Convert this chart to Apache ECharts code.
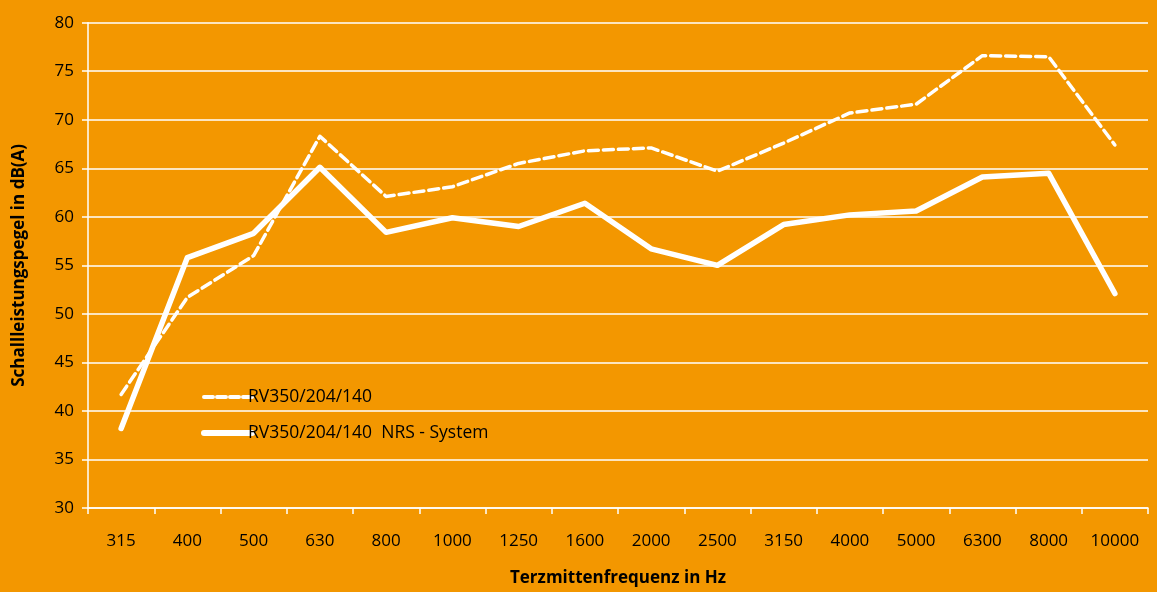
<!DOCTYPE html>
<html>
<head>
<meta charset="utf-8">
<script src="https://cdn.jsdelivr.net/npm/echarts@6/dist/echarts.min.js"></script>
<style>
html,body{margin:0;padding:0;background:#F39700;}
#c{width:1157px;height:592px;}
</style>
</head>
<body>
<div id="c"></div>
<script>
const categories = ['315','400','500','630','800','1000','1250','1600','2000','2500','3150','4000','5000','6300','8000','10000'];
const seriesNames = ['RV350/204/140', 'RV350/204/140  NRS - System'];
const valuesStandard = [41.7, 51.7, 56.0, 68.3, 62.1, 63.1, 65.5, 66.8, 67.1, 64.7, 67.6, 70.7, 71.6, 76.6, 76.5, 67.4];
const valuesNRS = [38.2, 55.8, 58.3, 65.1, 58.4, 59.9, 59.0, 61.4, 56.7, 55.0, 59.2, 60.2, 60.6, 64.1, 64.5, 52.1];
const yTicks = [30, 35, 40, 45, 50, 55, 60, 65, 70, 75, 80];
const xTitle = 'Terzmittenfrequenz in Hz';
const yTitle = 'Schallleistungspegel in dB(A)';

const chart = echarts.init(document.getElementById('c'), null, {renderer: 'canvas'});
const font = 'Open Sans';
chart.setOption({
  backgroundColor: '#F39700',
  animation: false,
  textStyle: {fontFamily: font},
  grid: {left: 88, right: 9, top: 22.7, bottom: 82.7, containLabel: false},
  legend: {
    orient: 'vertical',
    left: 196,
    top: 383,
    itemGap: 18,
    itemWidth: 48,
    itemHeight: 14,
    itemStyle: {opacity: 0},
    textStyle: {color: '#000', fontSize: 17.5, fontFamily: font, padding: [0,0,0,-9]},
    data: [
      {name: seriesNames[0], lineStyle: {color: '#fff', width: 4, type: [9, 4], cap: 'round'}},
      {name: seriesNames[1], lineStyle: {color: '#fff', width: 6, cap: 'round'}}
    ]
  },
  xAxis: {
    type: 'category',
    data: categories,
    boundaryGap: true,
    name: xTitle,
    nameLocation: 'middle',
    nameGap: 62,
    nameTextStyle: {color: '#000', fontWeight: 'bold', fontSize: 17, fontFamily: font},
    axisLine: {lineStyle: {color: '#fff', width: 1.5}},
    axisTick: {show: true, alignWithLabel: false, length: 6, lineStyle: {color: '#fff', width: 1.5}},
    axisLabel: {color: '#000', fontSize: 17, margin: 25, fontFamily: font},
    splitLine: {show: false}
  },
  yAxis: {
    type: 'value',
    min: yTicks[0],
    max: yTicks[yTicks.length - 1],
    interval: yTicks[1] - yTicks[0],
    name: yTitle,
    nameLocation: 'middle',
    nameGap: 60,
    nameTextStyle: {color: '#000', fontWeight: 'bold', fontSize: 17, fontFamily: font},
    axisLine: {show: true, lineStyle: {color: '#fff', width: 1.5}},
    axisTick: {show: true, length: 6, lineStyle: {color: '#fff', width: 1.5}},
    axisLabel: {color: '#000', fontSize: 17, margin: 14, fontFamily: font},
    splitLine: {show: true, lineStyle: {color: '#fff', width: 1.5}}
  },
  series: [
    {
      name: seriesNames[0],
      type: 'line',
      data: valuesStandard,
      symbol: 'none',
      itemStyle: {color: '#fff'},
      lineStyle: {color: '#fff', width: 3.5, type: [10, 5], cap: 'round', join: 'round'},
      z: 3
    },
    {
      name: seriesNames[1],
      type: 'line',
      data: valuesNRS,
      symbol: 'none',
      itemStyle: {color: '#fff'},
      lineStyle: {color: '#fff', width: 5.5, cap: 'round', join: 'round'},
      z: 4
    }
  ]
});
</script>
</body>
</html>
